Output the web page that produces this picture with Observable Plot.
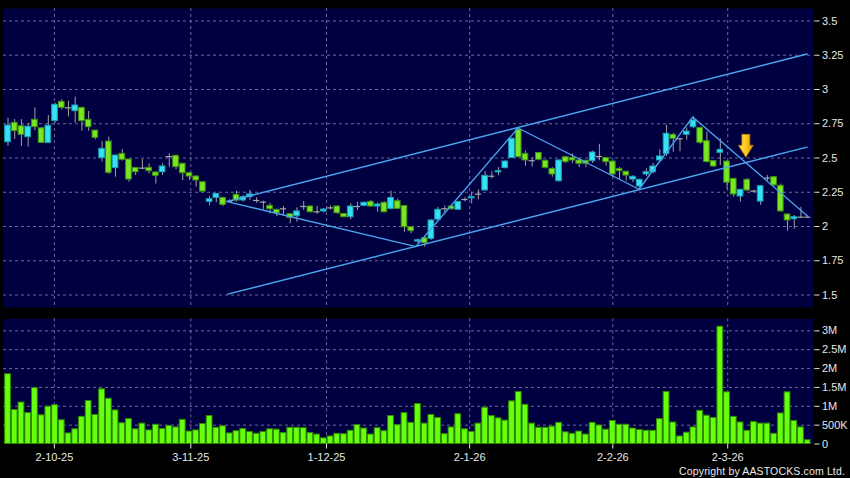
<!DOCTYPE html>
<html>
<head>
<meta charset="utf-8">
<script src="https://cdn.jsdelivr.net/npm/d3@7"></script>
<script src="https://cdn.jsdelivr.net/npm/@observablehq/plot@0.6"></script>
<style>
  html, body { margin: 0; padding: 0; background: #000; }
  #wrap { position: relative; width: 850px; height: 478px; overflow: hidden; background: #000; }
  #price, #volume { position: absolute; left: 0; }
  #price { top: 0; }
  #volume { top: 310px; }
  #copy { position: absolute; right: 5px; top: 465px; color: #e8e8e8; font: 10.5px "Liberation Sans", Arial, sans-serif; letter-spacing: 0.15px; white-space: nowrap; }
</style>
</head>
<body>
<div id="wrap">
  <div id="price"></div>
  <div id="volume"></div>
  <div id="copy">Copyright by AASTOCKS.com Ltd.</div>
</div>
<script>
// ---- Data ----
const open  = [2.615,2.757,2.732,2.652,2.779,2.717,2.61,2.769,2.91,2.866,2.842,2.866,2.779,2.70,2.499,2.62,2.426,2.53,2.489,2.428,2.426,2.428,2.394,2.396,2.51,2.516,2.458,2.389,2.365,2.323,
               2.18,2.209,2.209,2.185,2.231,2.19,2.214,2.19,2.178,2.151,2.122,2.129,2.09,2.075,2.146,2.146,2.107,2.11,2.136,2.146,2.092,2.068,2.146,2.151,2.18,2.146,2.173,2.129,2.185,2.15,
               1.995,1.89,1.915,1.91,2.05,2.129,2.146,2.122,2.197,2.205,2.236,2.263,2.367,2.395,2.426,2.50,2.706,2.53,2.48,2.537,2.48,2.42,2.33,2.506,2.50,2.482,2.48,2.477,2.511,2.50,
               2.474,2.42,2.40,2.343,2.292,2.38,2.396,2.482,2.53,2.669,2.64,2.669,2.725,2.718,2.623,2.477,2.538,2.474,2.348,2.219,2.341,2.258,2.182,2.353,2.36,2.297,2.088,2.053,2.068,2.068];
const high  = [2.79,2.78,2.78,2.75,2.866,2.72,2.81,2.90,2.925,2.915,2.944,2.87,2.839,2.70,2.62,2.652,2.518,2.562,2.489,2.43,2.489,2.458,2.40,2.458,2.53,2.52,2.46,2.392,2.37,2.325,
               2.219,2.238,2.21,2.195,2.258,2.226,2.263,2.21,2.185,2.17,2.125,2.146,2.092,2.136,2.182,2.15,2.146,2.13,2.15,2.15,2.095,2.166,2.178,2.18,2.19,2.17,2.18,2.258,2.20,2.15,
               1.995,1.91,1.92,2.05,2.14,2.15,2.15,2.18,2.21,2.25,2.268,2.40,2.40,2.43,2.48,2.645,2.72,2.55,2.50,2.54,2.485,2.43,2.485,2.51,2.53,2.50,2.48,2.55,2.60,2.505,
               2.475,2.43,2.40,2.37,2.345,2.42,2.46,2.56,2.74,2.68,2.645,2.72,2.80,2.725,2.69,2.48,2.64,2.48,2.35,2.27,2.35,2.265,2.30,2.372,2.365,2.31,2.09,2.08,2.14,2.075];
const low   = [2.585,2.635,2.585,2.58,2.70,2.605,2.605,2.754,2.852,2.80,2.754,2.696,2.696,2.633,2.47,2.38,2.36,2.477,2.323,2.372,2.414,2.385,2.31,2.372,2.433,2.414,2.336,2.336,2.287,2.25,
               2.151,2.175,2.146,2.175,2.178,2.178,2.19,2.17,2.122,2.092,2.073,2.08,2.02,2.031,2.117,2.10,2.088,2.10,2.12,2.09,2.063,2.049,2.117,2.145,2.14,2.105,2.10,2.122,2.122,1.958,
               1.947,1.875,1.85,1.90,2.04,2.10,2.12,2.12,2.18,2.165,2.195,2.26,2.348,2.37,2.42,2.50,2.50,2.44,2.435,2.48,2.42,2.36,2.325,2.46,2.46,2.43,2.43,2.46,2.48,2.44,
               2.36,2.34,2.33,2.32,2.265,2.365,2.385,2.47,2.51,2.542,2.545,2.63,2.715,2.60,2.465,2.43,2.445,2.27,2.214,2.18,2.255,2.25,2.155,2.33,2.293,2.105,1.965,1.98,2.06,2.06];
const close = [2.737,2.696,2.669,2.728,2.725,2.61,2.735,2.888,2.866,2.866,2.883,2.769,2.725,2.647,2.567,2.392,2.518,2.487,2.343,2.396,2.426,2.404,2.37,2.438,2.51,2.433,2.389,2.365,2.336,2.255,
               2.199,2.238,2.158,2.185,2.19,2.214,2.234,2.19,2.178,2.126,2.097,2.129,2.063,2.11,2.146,2.104,2.107,2.124,2.136,2.097,2.068,2.146,2.146,2.173,2.146,2.161,2.104,2.209,2.129,1.995,
               1.966,1.90,1.878,2.044,2.122,2.129,2.126,2.178,2.197,2.214,2.236,2.37,2.367,2.405,2.474,2.64,2.506,2.482,2.48,2.487,2.428,2.38,2.482,2.47,2.482,2.458,2.458,2.54,2.511,2.47,
               2.38,2.404,2.372,2.363,2.341,2.396,2.438,2.511,2.677,2.64,2.64,2.693,2.774,2.611,2.47,2.438,2.56,2.32,2.234,2.268,2.263,2.258,2.294,2.353,2.30,2.11,2.044,2.068,2.068,2.068];
// volume in millions of shares
const volume = [1.85,0.90,1.10,0.82,1.48,0.76,0.99,1.03,0.63,0.28,0.39,0.72,1.14,0.77,1.45,1.20,0.89,0.55,0.66,0.39,0.54,0.36,0.51,0.40,0.48,0.44,0.64,0.33,0.36,0.53,
                0.74,0.43,0.47,0.28,0.34,0.40,0.32,0.27,0.32,0.39,0.38,0.29,0.43,0.43,0.42,0.29,0.25,0.15,0.20,0.27,0.26,0.35,0.50,0.41,0.25,0.42,0.34,0.74,0.50,0.82,
                0.56,1.06,0.54,0.77,0.69,0.26,0.44,0.79,0.39,0.32,0.54,0.96,0.74,0.68,0.62,1.13,1.38,1.04,0.54,0.43,0.43,0.46,0.56,0.31,0.27,0.33,0.25,0.56,0.49,0.38,
                0.61,0.51,0.51,0.41,0.37,0.35,0.35,0.66,1.38,0.57,0.20,0.30,0.44,0.88,0.75,0.69,3.11,1.37,0.72,0.57,0.35,0.58,0.54,0.54,0.27,0.81,1.37,0.61,0.44,0.10];
// date ticks: position (in trading-day units, as drawn on the axis) and labels
const dateTickAt = [6.9, 27.2, 47.4, 68.7, 90.0, 107.1];
const dateTickLabels = ["2-10-25", "3-11-25", "1-12-25", "2-1-26", "2-2-26", "2-3-26"];
const priceTicks = [1.5, 1.75, 2, 2.25, 2.5, 2.75, 3, 3.25, 3.5];
const volumeTicks = [0, 0.5, 1, 1.5, 2, 2.5, 3];
// drawn trend lines: [trading-day index, price]
const channelUpper = [[32.6, 2.182], [118.9, 3.259]];
const channelLower = [[32.7, 1.507], [118.9, 2.579]];
const zigzag = [[32.6, 2.182], [60.7, 1.854], [75.9, 2.719], [93.9, 2.272], [101.9, 2.80], [119.0, 2.075]];
const arrowMark = [[109.8, 2.505]];

// ---- Build ----
const candles = open.map((o, i) => ({i, o, h: high[i], l: low[i], c: close[i], v: volume[i]}));
const up = candles.filter(d => d.c > d.o);
const down = candles.filter(d => d.c < d.o);
const doji = candles.filter(d => d.c === d.o);
const labelMap = new Map(dateTickAt.map((d, k) => [d, dateTickLabels[k]]));

const xDomain = [-0.67, 119.94];
const panelFill = "#000040";
const gridStyle = {stroke: "#8c8cb4", strokeOpacity: 0.75, strokeDasharray: "3,3"};
const lineColor = "#4aa6f0";
const font = "'Liberation Sans', Arial, sans-serif";

const arrowSymbol = {
  draw(ctx) {
    ctx.moveTo(-4, -23); ctx.lineTo(4, -23); ctx.lineTo(4, -12); ctx.lineTo(7.5, -12);
    ctx.lineTo(0, 0); ctx.lineTo(-7.5, -12); ctx.lineTo(-4, -12); ctx.closePath();
  }
};

const price = Plot.plot({
  width: 850, height: 310,
  marginLeft: 3, marginRight: 36.5, marginTop: 8, marginBottom: 3,
  style: {background: "transparent", color: "#e6e6e6", fontFamily: font, fontSize: "11px"},
  x: {domain: xDomain, axis: null},
  y: {domain: [1.409, 3.591], axis: null, label: null},
  marks: [
    Plot.frame({fill: panelFill, stroke: null}),
    Plot.gridY(priceTicks, gridStyle),
    Plot.gridX(dateTickAt, gridStyle),
    Plot.axisY(priceTicks, {anchor: "right", label: null, tickSize: 5, tickPadding: 3, tickFormat: d => String(d), fontSize: 11, color: "#e6e6e6"}),
    Plot.ruleX(candles, {x: "i", y1: "l", y2: "h", stroke: "#a0a0a0", strokeWidth: 1}),
    Plot.rect(up, {x1: d => d.i - 0.42, x2: d => d.i + 0.42, y1: "o", y2: "c", fill: "#35e2f2", stroke: "#1aa0b8", strokeWidth: 1}),
    Plot.rect(down, {x1: d => d.i - 0.42, x2: d => d.i + 0.42, y1: "o", y2: "c", fill: "#78e622", stroke: "#3f9010", strokeWidth: 1}),
    Plot.ruleY(doji, {y: "o", x1: d => d.i - 0.46, x2: d => d.i + 0.46, stroke: "#a8a8a8", strokeWidth: 1.2}),
    Plot.line(channelUpper, {x: d => d[0], y: d => d[1], stroke: lineColor, strokeWidth: 1.4}),
    Plot.line(channelLower, {x: d => d[0], y: d => d[1], stroke: lineColor, strokeWidth: 1.4}),
    Plot.line(zigzag, {x: d => d[0], y: d => d[1], stroke: lineColor, strokeWidth: 1.3}),
    Plot.dot(arrowMark, {x: d => d[0], y: d => d[1], r: 5, symbol: arrowSymbol, fill: "url(#arrowGrad)", stroke: "#a87400", strokeWidth: 0.8})
  ]
});
price.insertAdjacentHTML("afterbegin",
  '<defs><linearGradient id="arrowGrad" x1="0" y1="0" x2="1" y2="0">' +
  '<stop offset="0" stop-color="#ffe060"/><stop offset="0.5" stop-color="#ffc820"/><stop offset="1" stop-color="#e09000"/>' +
  '</linearGradient></defs>');
document.getElementById("price").appendChild(price);

const vol = Plot.plot({
  width: 850, height: 168,
  marginLeft: 3, marginRight: 36.5, marginTop: 8.3, marginBottom: 34.5,
  style: {background: "transparent", color: "#e6e6e6", fontFamily: font, fontSize: "11px"},
  x: {domain: xDomain, axis: null, label: null},
  y: {domain: [0, 3.32], axis: null, label: null},
  marks: [
    Plot.frame({fill: panelFill, stroke: null}),
    Plot.gridY(volumeTicks.filter(d => d > 0), gridStyle),
    Plot.gridX(dateTickAt, gridStyle),
    Plot.rectY(candles, {x1: d => d.i - 0.43, x2: d => d.i + 0.43, y1: 0, y2: "v", fill: "#66ff0e", stroke: "#2f8a00", strokeWidth: 1}),
    Plot.axisY(volumeTicks, {anchor: "right", label: null, tickSize: 5, tickPadding: 3, fontSize: 11, color: "#e6e6e6",
      tickFormat: d => d === 0 ? "0" : d < 1 ? (d * 1000) + "K" : d + "M"}),
    Plot.axisX(dateTickAt, {anchor: "bottom", label: null, tickSize: 5, tickPadding: 4, fontSize: 11, color: "#e6e6e6",
      tickFormat: d => labelMap.get(d)})
  ]
});
document.getElementById("volume").appendChild(vol);
</script>
</body>
</html>
